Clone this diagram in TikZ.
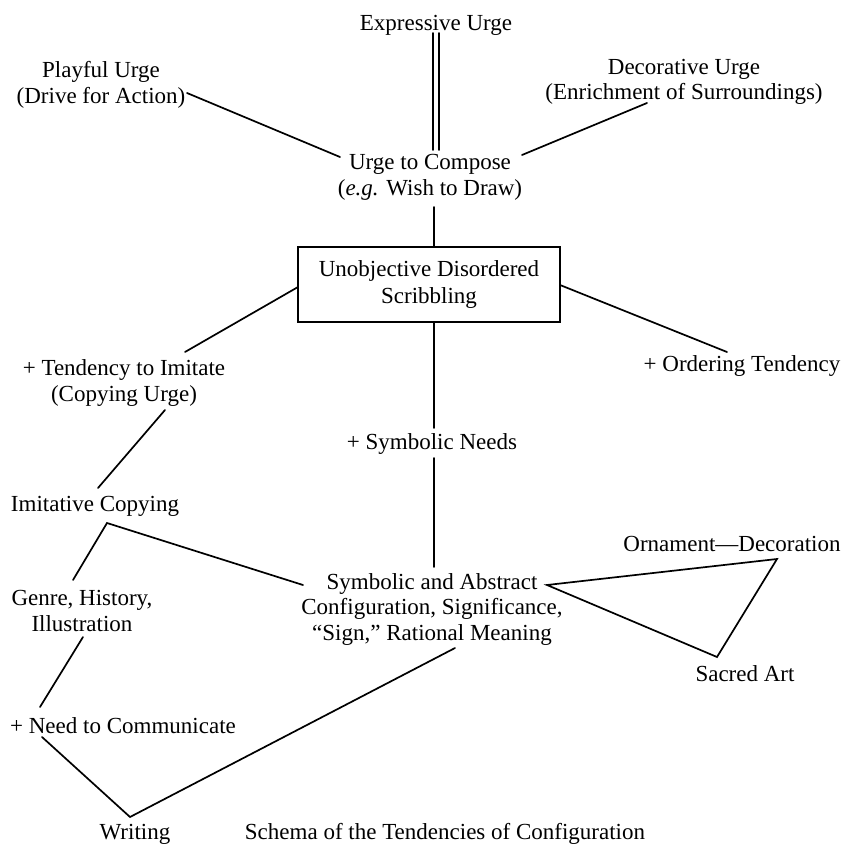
\documentclass[tikz,border=0pt]{standalone}
\usepackage{fontspec}
\setmainfont{Liberation Serif}
\begin{document}
\begin{tikzpicture}[x=1pt,y=-1pt,
  lbl/.style={inner sep=0pt,align=center,font=\fontsize{23}{25.5}\selectfont},
  conn/.style={line width=1.7pt,line cap=round,line join=miter},
  boxnode/.style={draw,line width=1.7pt,minimum width=262pt,minimum height=75pt,inner sep=0pt,align=center,font=\fontsize{23}{26.5}\selectfont}]
\useasboundingbox (0,0) rectangle (850,845);
% nodes
\node[lbl] (expr) at (436,25) {Expressive Urge};
\node[lbl] (compose) at (430,177.5) {Urge to Compose\\(\textit{e.g.} Wish to Draw)};
\node[lbl] (playful) at (101,85) {Playful Urge\\(Drive for Action)};
\node[lbl] (decor) at (684,82) {Decorative Urge\\(Enrichment of Surroundings)};
\node[boxnode] (box) at (429,284.5) {Unobjective Disordered\\Scribbling};
\node[lbl] (imitate) at (124,383) {+ Tendency to Imitate\\(Copying Urge)};
\node[lbl] (order) at (742,366) {+ Ordering Tendency};
\node[lbl] (symneeds) at (432,444) {+ Symbolic Needs};
\node[lbl] (imcopy) at (95,506) {Imitative Copying};
\node[lbl] (symab) at (432,609) {Symbolic and Abstract\\Configuration, Significance,\\“Sign,” Rational Meaning};
\node[lbl] (ornament) at (732,544) {Ornament—Decoration};
\node[lbl] (sacred) at (745,674) {Sacred Art};
\node[lbl] (genre) at (82,611) {Genre, History,\\Illustration};
\node[lbl] (need) at (123,726) {+ Need to Communicate};
\node[lbl] (writing) at (135,834) {Writing};
\node[lbl] (schema) at (445,834) {Schema of the Tendencies of Configuration};
% connector end points
\coordinate (exA1) at (433,33);
\coordinate (exB1) at (433,150);
\coordinate (exA2) at (439,33);
\coordinate (exB2) at (439,150);
\coordinate (coS) at (434,207);
\coordinate (bxN) at (434,247);
\coordinate (plE) at (187,93);
\coordinate (coW) at (340,157);
\coordinate (deS) at (647,103);
\coordinate (coE) at (522,155);
\coordinate (bxW) at (298,287);
\coordinate (imN) at (185,352);
\coordinate (bxE) at (560,285);
\coordinate (orN) at (727,352);
\coordinate (bxS) at (434,322);
\coordinate (snN) at (434,428);
\coordinate (snS) at (434,458);
\coordinate (saN) at (434,567);
\coordinate (imS) at (165,410);
\coordinate (icN) at (98,488);
\coordinate (icS) at (107,523);
\coordinate (geN) at (73,580);
\coordinate (saW) at (303,585);
\coordinate (geS) at (83,637);
\coordinate (neN) at (40,707);
\coordinate (neS) at (42,737);
\coordinate (wrN) at (130,817);
\coordinate (saS) at (455,648);
\coordinate (saE) at (547,585);
\coordinate (orS) at (777,559);
\coordinate (scN) at (717,657);
% connectors
\draw[conn] (exA1) -- (exB1);
\draw[conn] (exA2) -- (exB2);
\draw[conn] (coS) -- (bxN);
\draw[conn] (plE) -- (coW);
\draw[conn] (deS) -- (coE);
\draw[conn] (bxW) -- (imN);
\draw[conn] (bxE) -- (orN);
\draw[conn] (bxS) -- (snN);
\draw[conn] (snS) -- (saN);
\draw[conn] (imS) -- (icN);
\draw[conn] (geN) -- (icS) -- (saW);
\draw[conn] (geS) -- (neN);
\draw[conn] (neS) -- (wrN) -- (saS);
\draw[conn] (saE) -- (orS) -- (scN) -- cycle;
\end{tikzpicture}
\end{document}
